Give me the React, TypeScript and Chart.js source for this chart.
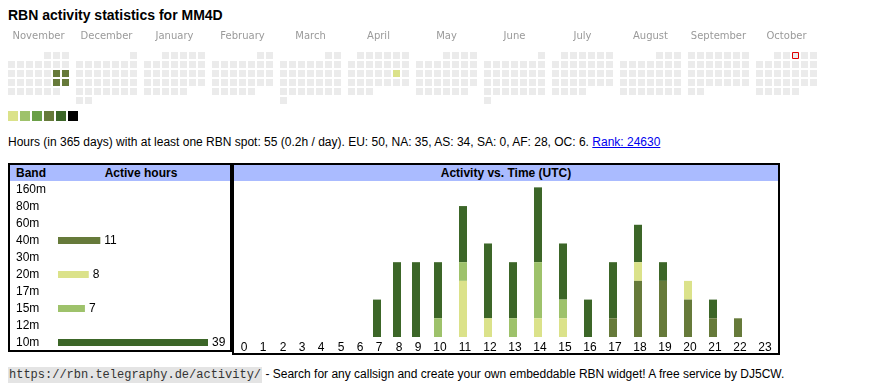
import React, { useEffect, useRef } from 'react';
import { Chart, registerables } from 'chart.js';

Chart.register(...registerables);

// ---------------- data ----------------
const TITLE = 'RBN activity statistics for MM4D';
const CALLSIGN_STATS =
  'Hours (in 365 days) with at least one RBN spot: 55 (0.2h / day). EU: 50, NA: 35, AS: 34, SA: 0, AF: 28, OC: 6. ';
const RANK_TEXT = 'Rank: 24630';
const FOOTER_URL = 'https://rbn.telegraphy.de/activity/';
const FOOTER_TEXT = ' - Search for any callsign and create your own embeddable RBN widget! A free service by DJ5CW.';

const MONTHS = ['November', 'December', 'January', 'February', 'March', 'April', 'May', 'June', 'July', 'August', 'September', 'October'];
const FIRST_YEAR = 2024;
const FIRST_MONTH = 10; // November (0-based)
const ACTIVE_DAYS = ['2024-11-16', '2024-11-17', '2024-11-23', '2024-11-24', '2025-04-19'];
const ACTIVE_LEVELS = [3, 3, 3, 3, 0];
const TODAY = '2025-10-03';
const LEVEL_COLORS = ['#dbe28a', '#9ec26b', '#6a9f47', '#667a3a', '#3c6628', '#000000'];
const EMPTY_COLOR = '#ebebeb';

const BANDS = ['160m', '80m', '60m', '40m', '30m', '20m', '17m', '15m', '12m', '10m'];
const BAND_HOURS = [0, 0, 0, 11, 0, 8, 0, 7, 0, 39];
const BAND_LEVEL = [5, 5, 5, 3, 2, 0, 2, 1, 2, 4];

const HOURS = [0, 1, 2, 3, 4, 5, 6, 7, 8, 9, 10, 11, 12, 13, 14, 15, 16, 17, 18, 19, 20, 21, 22, 23];
const H_40M = [0, 0, 0, 0, 0, 0, 0, 0, 0, 0, 0, 0, 0, 0, 0, 0, 0, 1, 3, 3, 2, 1, 1, 0];
const H_20M = [0, 0, 0, 0, 0, 0, 0, 0, 0, 0, 0, 3, 1, 0, 1, 1, 0, 0, 1, 0, 1, 0, 0, 0];
const H_15M = [0, 0, 0, 0, 0, 0, 0, 0, 0, 0, 1, 1, 0, 1, 3, 1, 0, 0, 0, 0, 0, 0, 0, 0];
const H_10M = [0, 0, 0, 0, 0, 0, 0, 2, 4, 4, 3, 3, 4, 3, 4, 3, 2, 3, 2, 1, 0, 1, 0, 0];

// ---------------- layout constants ----------------
const SANS = "'Liberation Sans', Arial, sans-serif";
const HEAT_LEFT = 8;
const MONTH_PITCH = 68;
const CELL = 7;
const CELL_PITCH = 9;
const HEAT_ROW_OFFSET = 6;
const COL_W_1 = 19.3;
const COL_W_2 = 25;
const COL_START = 0.5;
const COL_PAD_RIGHT = 4;

function pad2(n: number) {
  return String(n).padStart(2, '0');
}

function buildCalendar() {
  const pts: { x: number; y: number }[] = [];
  const colors: string[] = [];
  const radii: number[] = [];
  const borders: number[] = [];
  for (let m = 0; m < MONTHS.length; m++) {
    const y = FIRST_YEAR + Math.floor((FIRST_MONTH + m) / 12);
    const mo = (FIRST_MONTH + m) % 12;
    const startCol = (new Date(Date.UTC(y, mo, 1)).getUTCDay() + 6) % 7;
    const nDays = new Date(Date.UTC(y, mo + 1, 0)).getUTCDate();
    for (let d = 1; d <= nDays; d++) {
      const idx = startCol + d - 1;
      const col = idx % 7;
      const row = Math.floor(idx / 7);
      const key = `${y}-${pad2(mo + 1)}-${pad2(d)}`;
      pts.push({
        x: HEAT_LEFT + m * MONTH_PITCH + col * CELL_PITCH + CELL / 2,
        y: HEAT_ROW_OFFSET + row * CELL_PITCH + CELL / 2,
      });
      const a = ACTIVE_DAYS.indexOf(key);
      colors.push(a >= 0 ? LEVEL_COLORS[ACTIVE_LEVELS[a]] : EMPTY_COLOR);
      if (key === TODAY) {
        radii.push((CELL / 2 - 0.5) / Math.SQRT1_2);
        borders.push(1);
      } else {
        radii.push(CELL / 2 / Math.SQRT1_2);
        borders.push(0);
      }
    }
  }
  return { pts, colors, radii, borders };
}

const MONTH_CENTERS = MONTHS.map((_, m) => HEAT_LEFT + m * MONTH_PITCH + (7 * CELL_PITCH - (CELL_PITCH - CELL)) / 2);

function hourColumns() {
  const labels: number[] = [];
  const bars: number[] = [];
  let x = COL_START;
  for (const h of HOURS) {
    const w = String(h).length > 1 ? COL_W_2 : COL_W_1;
    labels.push(Math.round(x + w / 2));
    bars.push(Math.round(x + (w - COL_PAD_RIGHT) / 2));
    x += w;
  }
  return { labels, bars };
}
const HOUR_COLS = hourColumns();

const noPad = (s: any) => {
  s.paddingTop = 0;
  s.paddingBottom = 0;
  s.paddingLeft = 0;
  s.paddingRight = 0;
};

const valueLabels = {
  id: 'valueLabels',
  afterDatasetsDraw(chart: any) {
    const ctx = chart.ctx;
    const meta = chart.getDatasetMeta(0);
    meta.data.forEach((bar: any, i: number) => {
      const v = BAND_HOURS[i];
      if (!v) return;
      ctx.save();
      ctx.font = `12px ${SANS}`;
      ctx.fillStyle = '#000';
      ctx.textBaseline = 'middle';
      ctx.textAlign = 'left';
      ctx.fillText(String(v), bar.x + 4, bar.y + 0.5);
      ctx.restore();
    });
  },
};

export default function App() {
  const heatRef = useRef<HTMLCanvasElement>(null);
  const bandRef = useRef<HTMLCanvasElement>(null);
  const timeRef = useRef<HTMLCanvasElement>(null);

  useEffect(() => {
    const cal = buildCalendar();
    const heat = new Chart(heatRef.current!, {
      type: 'scatter',
      data: {
        datasets: [
          {
            data: cal.pts,
            pointStyle: 'rect',
            pointRadius: cal.radii,
            pointBackgroundColor: cal.colors,
            pointBorderColor: '#e00000',
            pointBorderWidth: cal.borders,
          } as any,
        ],
      },
      options: {
        animation: false,
        responsive: false,
        events: [],
        layout: { padding: 0, autoPadding: false },
        plugins: { legend: { display: false }, tooltip: { enabled: false } },
        scales: {
          x: {
            type: 'linear',
            position: 'top',
            offset: false,
            min: 0,
            max: 870,
            grid: { display: false, drawTicks: false },
            border: { display: false },
            afterBuildTicks: (s: any) => {
              s.ticks = MONTH_CENTERS.map((v) => ({ value: v }));
            },
            afterFit: (s: any) => {
              s.height = 20;
              noPad(s);
            },
            ticks: {
              autoSkip: false,
              maxRotation: 0,
              minRotation: 0,
              padding: 4,
              color: '#9a9a9a',
              font: { family: "'DejaVu Sans', Verdana, sans-serif", size: 10 },
              callback: (_v: any, i: number) => MONTHS[i],
            },
          },
          y: { type: 'linear', display: false, min: 0, max: 60, reverse: true },
        },
      } as any,
    });

    const band = new Chart(bandRef.current!, {
      type: 'bar',
      data: {
        labels: BANDS,
        datasets: [
          {
            data: BAND_HOURS.map((v) => (v ? v : null)),
            backgroundColor: BAND_LEVEL.map((l) => LEVEL_COLORS[l]),
            barThickness: 7,
            borderWidth: 0,
            inflateAmount: 0,
          } as any,
        ],
      },
      options: {
        indexAxis: 'y',
        animation: false,
        responsive: false,
        events: [],
        layout: { padding: { left: 6, right: 12, top: 0, bottom: 0 }, autoPadding: false },
        plugins: { legend: { display: false }, tooltip: { enabled: false } },
        scales: {
          x: { display: false, min: 0, max: 41.6 },
          y: {
            grid: { display: false, drawTicks: false },
            border: { display: false },
            afterFit: (s: any) => {
              s.width = 42;
              noPad(s);
            },
            ticks: {
              autoSkip: false,
              crossAlign: 'far',
              padding: 0,
              color: '#000',
              font: { family: SANS, size: 12 },
            },
          },
        },
      } as any,
      plugins: [valueLabels],
    });

    const series = [
      { label: '40m', values: H_40M, level: 3 },
      { label: '20m', values: H_20M, level: 0 },
      { label: '15m', values: H_15M, level: 1 },
      { label: '10m', values: H_10M, level: 4 },
    ];
    const time = new Chart(timeRef.current!, {
      type: 'bar',
      data: {
        datasets: series.map((s) => ({
          label: s.label,
          data: HOURS.map((_, i) => ({ x: HOUR_COLS.bars[i], y: s.values[i] ? s.values[i] : null })),
          backgroundColor: LEVEL_COLORS[s.level],
          barThickness: 8,
          borderWidth: 0,
          inflateAmount: 0,
        })) as any,
      },
      options: {
        animation: false,
        responsive: false,
        events: [],
        layout: { padding: 0, autoPadding: false },
        plugins: { legend: { display: false }, tooltip: { enabled: false } },
        scales: {
          x: {
            type: 'linear',
            offset: false,
            min: 0,
            max: 544,
            stacked: true,
            grid: { display: false, drawTicks: false, offset: false },
            border: { display: false },
            afterBuildTicks: (s: any) => {
              s.ticks = HOUR_COLS.labels.map((v) => ({ value: v }));
            },
            afterFit: (s: any) => {
              s.height = 16;
              noPad(s);
            },
            ticks: {
              autoSkip: false,
              maxRotation: 0,
              minRotation: 0,
              padding: 3,
              color: '#000',
              font: { family: SANS, size: 12 },
              callback: (_v: any, i: number) => String(HOURS[i]),
            },
          },
          y: { display: false, stacked: true, min: 0, max: 8.34 },
        },
      } as any,
    });

    return () => {
      heat.destroy();
      band.destroy();
      time.destroy();
    };
  }, []);

  const abs = (left: number, top: number, extra: React.CSSProperties = {}): React.CSSProperties => ({
    position: 'absolute',
    left,
    top,
    ...extra,
  });

  return (
    <div style={{ position: 'absolute', left: 0, top: 0, width: 870, height: 390, fontFamily: SANS, color: '#000', background: '#fff' }}>
      <div style={abs(8, 6, { fontSize: 14, fontWeight: 'bold', lineHeight: '18px', whiteSpace: 'nowrap' })}>{TITLE}</div>

      <canvas ref={heatRef} width={870} height={80} style={abs(0, 26, { width: 870, height: 80 })} />

      {LEVEL_COLORS.map((c, i) => (
        <div key={c} style={abs(8 + i * 12, 111, { width: 10, height: 10, background: c })} />
      ))}

      <div style={abs(8, 134, { fontSize: 12, lineHeight: '16px', whiteSpace: 'nowrap' })}>
        {CALLSIGN_STATS}
        <a href="#rank" style={{ color: '#0000ee', textDecoration: 'underline' }}>
          {RANK_TEXT}
        </a>
      </div>

      {/* Band table */}
      <div style={abs(8, 163, { width: 224, height: 189, border: '2px solid #000', boxSizing: 'border-box' })} />
      <div style={abs(10, 165, { width: 220, height: 16, background: '#aabbff' })} />
      <div style={abs(16, 165, { fontSize: 12, fontWeight: 'bold', lineHeight: '16px' })}>Band</div>
      <div style={abs(50, 165, { width: 182, textAlign: 'center', fontSize: 12, fontWeight: 'bold', lineHeight: '16px' })}>
        Active hours
      </div>
      <canvas ref={bandRef} width={220} height={170} style={abs(10, 181, { width: 220, height: 170 })} />

      {/* Activity vs time */}
      <div style={abs(232, 163, { width: 548, height: 192, border: '2px solid #000', boxSizing: 'border-box' })} />
      <div style={abs(234, 165, { width: 544, height: 16, background: '#aabbff' })} />
      <div style={abs(234, 165, { width: 544, textAlign: 'center', fontSize: 12, fontWeight: 'bold', lineHeight: '16px' })}>
        Activity vs. Time (UTC)
      </div>
      <canvas ref={timeRef} width={544} height={172} style={abs(234, 181, { width: 544, height: 172 })} />

      <div style={abs(8, 366, { fontSize: 12, lineHeight: '16px', whiteSpace: 'nowrap' })}>
        <code style={{ fontFamily: "'Liberation Mono', 'Courier New', monospace", fontSize: 12, background: '#e4e4e4', color: '#333', padding: '1px 1px' }}>
          {FOOTER_URL}
        </code>
        {FOOTER_TEXT}
      </div>
    </div>
  );
}
